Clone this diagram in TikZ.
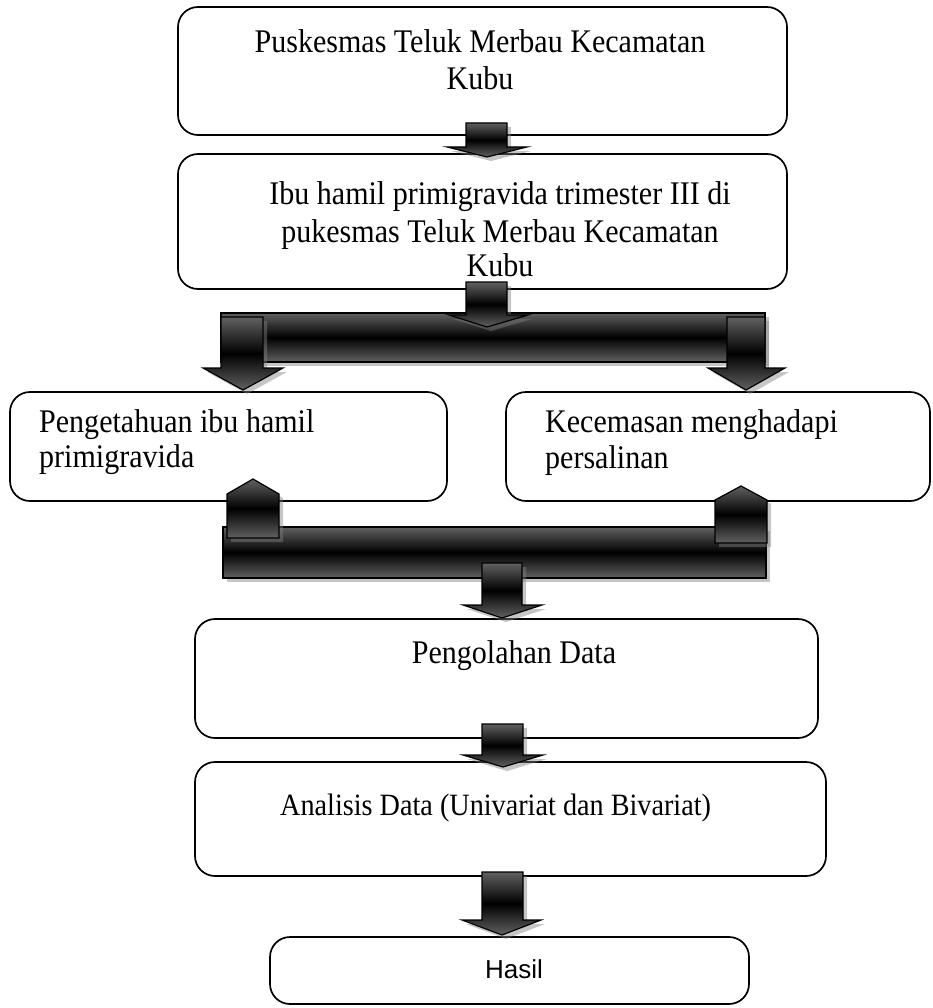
\documentclass[tikz,border=0pt]{standalone}
\usepackage{fontspec}
\setmainfont{Liberation Serif}
\newfontfamily\tallserif[FakeStretch=0.91]{Liberation Serif}
\newfontfamily\arialf{Liberation Sans}
\usetikzlibrary{shadows}
\begin{document}
\begin{tikzpicture}[x=1pt,y=-1pt,
  box/.style={draw=black, line width=1.7pt, rounded corners=20pt, fill=white, inner sep=0pt},
  blk/.style={draw=black, line width=1.2pt, top color=black!62, bottom color=black!62, middle color=black,
    drop shadow={shadow xshift=4pt, shadow yshift=-4pt, opacity=0.45, fill=gray}},
  txt/.style={inner sep=0pt, font=\tallserif\fontsize{33pt}{40pt}\selectfont},
]
\useasboundingbox (0,0) rectangle (932,1008);
% boxes
\node[box, minimum width=609pt, minimum height=128pt] (b1) at (482.5,71) {};
\node[box, minimum width=609pt, minimum height=135pt] (b2) at (482.5,221.5) {};
\node[box, minimum width=437pt, minimum height=109pt] (b3) at (228.5,446.5) {};
\node[box, minimum width=424pt, minimum height=109pt] (b4) at (718,446.5) {};
\node[box, minimum width=623pt, minimum height=119pt] (b5) at (506.5,678.5) {};
\node[box, minimum width=631pt, minimum height=114pt] (b6) at (510.5,819) {};
\node[box, minimum width=479pt, minimum height=67pt] (b7) at (509.5,970.5) {};
% texts
\node[txt, anchor=base] (t11) at (480,53) {Puskesmas Teluk Merbau Kecamatan};
\node[txt, anchor=base] (t12) at (480,90) {Kubu};
\node[txt, anchor=base] (t21) at (500,205) {Ibu hamil primigravida trimester III di};
\node[txt, anchor=base] (t22) at (500,242) {pukesmas Teluk Merbau Kecamatan};
\node[txt, anchor=base] (t23) at (500,276) {Kubu};
\node[txt, anchor=base west] (t31) at (39,432) {Pengetahuan ibu hamil};
\node[txt, anchor=base west] (t32) at (39,467) {primigravida};
\node[txt, anchor=base west] (t41) at (545,432) {Kecemasan menghadapi};
\node[txt, anchor=base west] (t42) at (545,468) {persalinan};
\node[txt, anchor=base] (t51) at (514,663) {Pengolahan Data};
\node[txt, anchor=base west, font=\tallserif\fontsize{31pt}{37pt}\selectfont] (t61) at (280,815) {Analisis Data (Univariat dan Bivariat)};
\node[inner sep=0pt, font=\arialf\fontsize{26pt}{31pt}\selectfont, anchor=base] (t71) at (514,978) {Hasil};
% arrow 1
\draw[blk] (466,123) -- (507,123) -- (507,147) -- (527,147) -- (487,157) -- (447,147) -- (466,147) -- cycle;
% bar 1
\draw[blk] (221,313) rectangle (765,362);
% arrow 2
\draw[blk] (466,282) -- (507,282) -- (507,315) -- (528,315) -- (487,327) -- (449,315) -- (466,315) -- cycle;
% left / right down arrows
\draw[blk] (221,317) -- (263,317) -- (263,368) -- (283,368) -- (243,390) -- (203,368) -- (221,368) -- cycle;
\draw[blk] (727,317) -- (765,317) -- (765,368) -- (785,368) -- (746,390) -- (708,368) -- (727,368) -- cycle;
% bar 2
\draw[blk] (223,527) rectangle (766,578);
% up arrows
\draw[blk] (227,538) -- (227,494) -- (253,479) -- (279,494) -- (279,538) -- cycle;
\draw[blk] (715,543) -- (715,500) -- (741,486) -- (767,500) -- (767,543) -- cycle;
% arrow 3
\draw[blk] (482,563) -- (522,563) -- (522,605) -- (542,605) -- (502,618) -- (463,605) -- (482,605) -- cycle;
% arrow 4
\draw[blk] (482,724) -- (523,724) -- (523,755) -- (543,755) -- (503,767) -- (463,755) -- (482,755) -- cycle;
% arrow 5
\draw[blk] (482,872) -- (523,872) -- (523,920) -- (541,920) -- (502,935) -- (462,920) -- (482,920) -- cycle;
\end{tikzpicture}
\end{document}
